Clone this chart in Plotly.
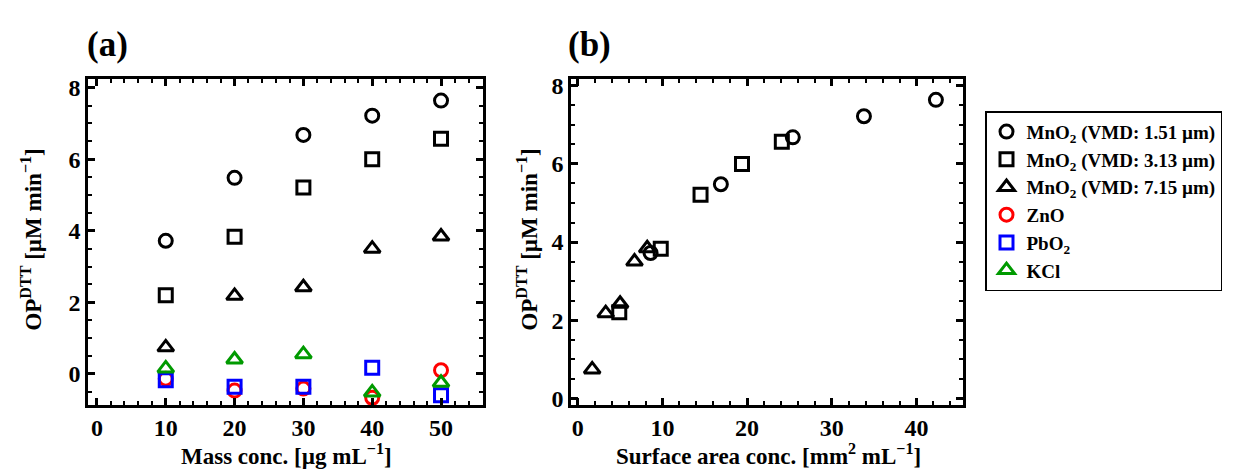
import plotly.graph_objects as go

# ---- data ----
mass_conc = [10, 20, 30, 40, 50]

mno2_151 = [3.72, 5.48, 6.68, 7.22, 7.64]
mno2_313 = [2.20, 3.83, 5.21, 6.00, 6.57]
mno2_715 = [0.74, 2.18, 2.42, 3.50, 3.84]
zno = [-0.14, -0.47, -0.41, -0.67, 0.10]
pbo2 = [-0.18, -0.36, -0.36, 0.17, -0.60]
kcl = [0.15, 0.40, 0.55, -0.52, -0.25]

sa_151 = [8.6, 16.9, 25.4, 33.8, 42.3]
sa_313 = [4.9, 9.8, 14.5, 19.4, 24.1]
sa_715 = [1.7, 3.3, 5.0, 6.7, 8.2]

names = ["MnO<sub>2</sub> (VMD: 1.51 µm)", "MnO<sub>2</sub> (VMD: 3.13 µm)",
         "MnO<sub>2</sub> (VMD: 7.15 µm)", "ZnO", "PbO<sub>2</sub>", "KCl"]
colors = ["#000000", "#000000", "#000000", "#FF0000", "#0000FF", "#009A00"]
symbols = ["circle-open", "square-open", "triangle-up-open",
           "circle-open", "square-open", "triangle-up-open"]
sizes = [13, 13, 14, 13, 13, 14]

W, H = 1239, 472
FONT = "Liberation Serif"

fig = go.Figure()

series_a = [mno2_151, mno2_313, mno2_715, zno, pbo2, kcl]
for i, ys in enumerate(series_a):
    fig.add_trace(go.Scatter(
        x=mass_conc, y=ys, mode="markers", name=names[i],
        marker=dict(symbol=symbols[i], size=sizes[i], color=colors[i],
                    line=dict(width=3, color=colors[i])),
        xaxis="x", yaxis="y", showlegend=True))

series_b = [(sa_151, mno2_151), (sa_313, mno2_313), (sa_715, mno2_715)]
for i, (xs, ys) in enumerate(series_b):
    fig.add_trace(go.Scatter(
        x=xs, y=ys, mode="markers", name=names[i],
        marker=dict(symbol=symbols[i], size=sizes[i], color=colors[i],
                    line=dict(width=3, color=colors[i])),
        xaxis="x2", yaxis="y2", showlegend=False))


def ax(domain, rng, dtick, mdtick, anchor):
    return dict(
        domain=domain, range=rng, dtick=dtick, tick0=0,
        showgrid=False, zeroline=False, showline=True, linecolor="black",
        linewidth=2.5, mirror="allticks", ticks="inside", ticklen=7,
        tickwidth=2.5, tickcolor="black", anchor=anchor,
        tickfont=dict(family=FONT, size=24, color="black", weight="bold"),
        minor=dict(ticks="inside", dtick=mdtick, tick0=0, ticklen=4,
                   tickwidth=2, tickcolor="black", showgrid=False),
    )


ydom = [1 - 402 / H, 1 - 67 / H]
fig.update_layout(
    width=W, height=H,
    margin=dict(l=0, r=0, t=0, b=0),
    paper_bgcolor="white", plot_bgcolor="white",
    font=dict(family=FONT, color="black", weight="bold"),
    xaxis=ax([80 / W, 475 / W], [-1.3, 56.1], 10, 2, "y"),
    yaxis=ax(ydom, [-0.87, 8.24], 2, 0.5, "x"),
    xaxis2=ax([563 / W, 955 / W], [-0.8, 45.5], 10, 2, "y2"),
    yaxis2=ax(ydom, [-0.17, 8.17], 2, 0.5, "x2"),
    legend=dict(x=977 / W, y=1 - 100 / H, xanchor="left", yanchor="top",
                bordercolor="black", borderwidth=1.5, bgcolor="white",
                font=dict(family=FONT, size=19, color="black", weight="bold"),
                itemwidth=30, tracegroupgap=0),
    showlegend=True,
)

annos = [
    dict(text="(a)", x=99 / W, y=1 - 31 / H, font=dict(size=35)),
    dict(text="(b)", x=581 / W, y=1 - 31 / H, font=dict(size=35)),
    dict(text="Mass conc. [µg mL<sup>−1</sup>]", x=278 / W, y=1 - 453 / H,
         font=dict(size=23)),
    dict(text="Surface area conc. [mm<sup>2</sup> mL<sup>−1</sup>]", x=760 / W,
         y=1 - 453 / H, font=dict(size=23)),
    dict(text="OP<sup>DTT</sup> [µM min<sup>−1</sup>]", x=24 / W, y=1 - 232 / H,
         textangle=-90, font=dict(size=23)),
    dict(text="OP<sup>DTT</sup> [µM min<sup>−1</sup>]", x=520 / W, y=1 - 232 / H,
         textangle=-90, font=dict(size=23)),
]
for a in annos:
    a.update(xref="paper", yref="paper", showarrow=False,
             xanchor="center", yanchor="middle")
    a["font"].update(family=FONT, color="black", weight="bold")
fig.update_layout(annotations=annos)

fig.write_html("out.html")
